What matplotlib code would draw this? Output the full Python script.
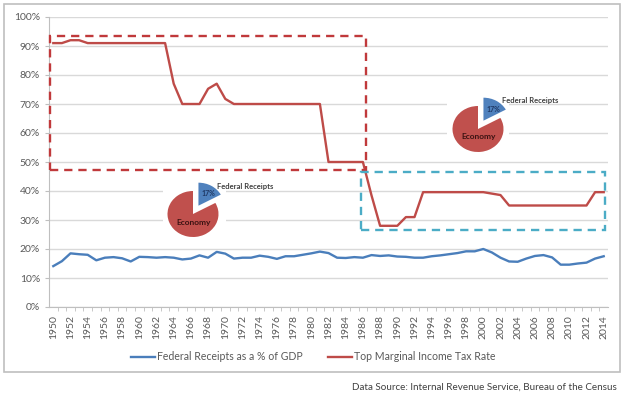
import matplotlib
matplotlib.use("Agg")
import matplotlib.pyplot as plt
from matplotlib.patches import Rectangle
from matplotlib.ticker import FuncFormatter, MultipleLocator

plt.rcParams['font.family'] = ['Lato', 'DejaVu Sans']

# data
years = list(range(1950, 2015))
receipts_pct_gdp = [14.1, 15.8, 18.5, 18.2, 18.0, 16.1, 17.0, 17.2, 16.8, 15.7,
                    17.3, 17.2, 17.0, 17.2, 17.0, 16.4, 16.7, 17.8, 17.0, 19.0,
                    18.4, 16.7, 17.0, 17.0, 17.7, 17.3, 16.6, 17.5, 17.5, 18.0,
                    18.5, 19.1, 18.6, 17.0, 16.9, 17.2, 17.0, 17.9, 17.6, 17.8,
                    17.4, 17.3, 17.0, 17.0, 17.5, 17.8, 18.2, 18.6, 19.2, 19.2,
                    20.0, 18.8, 17.0, 15.7, 15.6, 16.7, 17.6, 17.9, 17.1, 14.6,
                    14.6, 15.0, 15.3, 16.7, 17.5]
top_marginal_rate = [91, 91, 92, 92, 91, 91, 91, 91, 91, 91,
                     91, 91, 91, 91, 77, 70, 70, 70, 75.25, 77,
                     71.75, 70, 70, 70, 70, 70, 70, 70, 70, 70,
                     70, 70, 50, 50, 50, 50, 50, 38.5, 28, 28,
                     28, 31, 31, 39.6, 39.6, 39.6, 39.6, 39.6, 39.6, 39.6,
                     39.6, 39.1, 38.6, 35, 35, 35, 35, 35, 35, 35,
                     35, 35, 35, 39.6, 39.6]
pie_values = [17, 83]
pie_labels = ['Federal Receipts', 'Economy']
# highlighted periods: (first year, last year, low %, high %)
high_rate_box = (1949.6, 1986.4, 47.4, 93.5)
low_rate_box = (1985.8, 2014.2, 26.5, 46.7)

W, H = 628, 397
fig = plt.figure(figsize=(W / 100, H / 100), dpi=100)


def fx(x):
    return x / W


def fy(y):
    return 1 - y / H


# outer frame
fig.patches.append(Rectangle((fx(4), fy(372)), fx(616), (368) / H, transform=fig.transFigure,
                             fill=False, edgecolor='#BFBFBF', lw=1.2))

ax = fig.add_axes([fx(49), fy(307), fx(559), 290 / H])
ax.set_xlim(1949.5, 2014.5)
ax.set_ylim(0, 100)
ax.yaxis.set_major_locator(MultipleLocator(10))
ax.yaxis.set_major_formatter(FuncFormatter(lambda v, p: f"{int(v)}%"))
ax.grid(axis='y', color='#D9D9D9', lw=1)
ax.set_axisbelow(True)
for s in ['top', 'right']:
    ax.spines[s].set_visible(False)
for s in ['left', 'bottom']:
    ax.spines[s].set_color('#BFBFBF')
ax.set_xticks(years[::2])
ax.set_xticklabels([str(y) for y in years[::2]], rotation=90)
ax.set_xticks([y + 0.5 for y in years[:-1]], minor=True)
ax.tick_params(axis='x', which='major', length=0, pad=6, labelsize=7.5, labelcolor='#595959')
ax.tick_params(axis='x', which='minor', length=3, color='#BFBFBF')
ax.tick_params(axis='y', length=3, color='#BFBFBF', labelsize=7.5, labelcolor='#595959')

ax.plot(years, receipts_pct_gdp, color='#4A7EBB', lw=1.7, label='Federal Receipts as a % of GDP')
ax.plot(years, top_marginal_rate, color='#BE4B48', lw=1.7, label='Top Marginal Income Tax Rate')

x0, x1, y0, y1 = high_rate_box
ax.add_patch(Rectangle((x0, y0), x1 - x0, y1 - y0, fill=False, edgecolor='#C0393B',
                       lw=1.7, ls=(0, (3.5, 2.5)), clip_on=False, zorder=3))
x0, x1, y0, y1 = low_rate_box
ax.add_patch(Rectangle((x0, y0), x1 - x0, y1 - y0, fill=False, edgecolor='#4BACC6',
                       lw=1.7, ls=(0, (3.5, 2.5)), clip_on=False, zorder=3))


def draw_pie(cx, cy, box):
    # white backdrop hiding gridlines
    bx0, by0, bx1, by1 = box
    fig.patches.append(Rectangle((fx(bx0), fy(by1)), fx(bx1 - bx0), (by1 - by0) / H,
                                 transform=fig.transFigure, facecolor='white', edgecolor='none',
                                 zorder=1))
    rx, ry = 25.5, 23
    pa = fig.add_axes([fx(cx - 1.6 * rx), fy(cy + 1.6 * ry), fx(3.2 * rx), 3.2 * ry / H])
    pa.set_zorder(2)
    pa.pie(pie_values, colors=['#4F81BD', '#C0504D'], explode=[0.42, 0],
           startangle=90, counterclock=False, radius=1, wedgeprops=dict(lw=0))
    pa.set_aspect('auto')
    pa.set_xlim(-1.6, 1.6)
    pa.set_ylim(-1.6, 1.6)
    pa.axis('off')
    fig.text(fx(cx + 15), fy(cy - 20), '17%', fontsize=5, fontweight='bold',
             color='#1F3864', ha='center', va='center', zorder=3)
    fig.text(fx(cx + 1), fy(cy + 8), pie_labels[1], fontsize=6, fontweight='bold',
             color='#3B1212', ha='center', va='center', zorder=3)
    fig.text(fx(cx + 24), fy(cy - 28), pie_labels[0], fontsize=5.5, fontweight='bold',
             color='#404040', ha='left', va='center', zorder=3)


draw_pie(193, 214, (163, 180, 226, 246))
draw_pie(478, 129, (447, 88, 509, 157))

fig.legend(loc='center', bbox_to_anchor=(fx(313), fy(357)), ncol=2, frameon=False,
           fontsize=7.6, handlelength=2.3, columnspacing=2.4, handletextpad=0.15,
           labelcolor='#595959')

fig.text(fx(617), fy(387), 'Data Source: Internal Revenue Service, Bureau of the Census',
         fontsize=7.1, color='#404040', ha='right', va='center')

fig.savefig('out.png', dpi=100)
